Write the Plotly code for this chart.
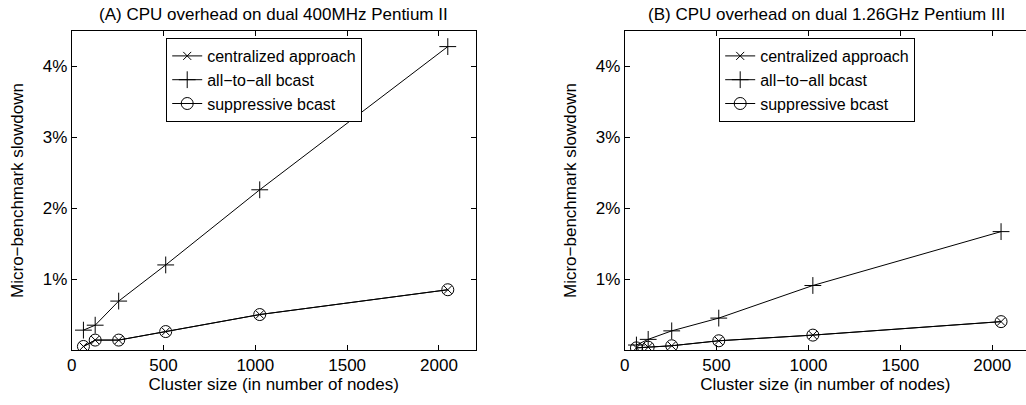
import plotly.graph_objects as go

nodes = [64, 128, 256, 512, 1024, 2048]

# Panel A: dual 400MHz Pentium II (percent slowdown)
a_central = [0.05, 0.14, 0.14, 0.26, 0.50, 0.85]
a_all2all = [0.28, 0.35, 0.69, 1.20, 2.26, 4.28]
a_suppress = [0.05, 0.14, 0.14, 0.26, 0.50, 0.85]

# Panel B: dual 1.26GHz Pentium III (percent slowdown)
b_central = [0.03, 0.04, 0.06, 0.13, 0.21, 0.40]
b_all2all = [0.07, 0.15, 0.27, 0.45, 0.91, 1.67]
b_suppress = [0.03, 0.04, 0.06, 0.13, 0.21, 0.40]

series_names = ["centralized approach", "all\u2212to\u2212all bcast", "suppressive bcast"]
titles = ["(A) CPU overhead on dual 400MHz Pentium II",
          "(B) CPU overhead on dual 1.26GHz Pentium III"]
y_ticks = [1, 2, 3, 4]
y_labels = ["1%", "2%", "3%", "4%"]
x_ticks = [0, 500, 1000, 1500, 2000]

W, H = 1026, 405
FONT = "Liberation Sans, Arial, sans-serif"
FS = 17
markers = ["x-thin-open", "cross-thin-open", "circle-open"]
msizes = [8, 12, 12]

fig = go.Figure()
panels = [(a_central, a_all2all, a_suppress), (b_central, b_all2all, b_suppress)]
for p, data in enumerate(panels):
    xa = "x" if p == 0 else "x2"
    ya = "y" if p == 0 else "y2"
    lg = "legend" if p == 0 else "legend2"
    for s, vals in enumerate(data):
        fig.add_trace(go.Scatter(
            x=nodes, y=vals, mode="lines+markers", name=series_names[s],
            xaxis=xa, yaxis=ya, legend=lg,
            line=dict(color="black", width=1),
            marker=dict(symbol=markers[s], size=msizes[s], color="black",
                        line=dict(color="black", width=1)),
        ))

def px_x(v):
    return v / W

def px_y(v):
    return 1 - v / H

ybot, ytop = px_y(350), px_y(31)
axis_common = dict(showgrid=False, zeroline=False, showline=True, linecolor="black",
                   linewidth=1, ticks="inside", ticklen=5, tickcolor="black",
                   tickfont=dict(family=FONT, size=FS, color="black"))
xtitle = dict(text="Cluster size (in number of nodes)", standoff=2,
              font=dict(family=FONT, size=FS, color="black"))
ytitle = dict(text="Micro\u2212benchmark slowdown", standoff=14,
              font=dict(family=FONT, size=FS, color="black"))
leg_common = dict(xanchor="left", yanchor="top", bgcolor="white", bordercolor="black",
                  borderwidth=1, font=dict(family=FONT, size=16, color="black"),
                  itemwidth=30, tracegroupgap=0)

# right panel is cut by the page edge: 2200 would sit at x=1029
right_end = 2200 * (W - 622.7) / (1029 - 622.7)

fig.update_layout(
    width=W, height=H, margin=dict(l=0, r=0, t=0, b=0),
    paper_bgcolor="white", plot_bgcolor="white",
    font=dict(family=FONT, size=FS, color="black"),
    xaxis=dict(domain=[px_x(67), px_x(473)], range=[0, 2200], tickvals=x_ticks,
               mirror="allticks", anchor="y", title=xtitle, **axis_common),
    yaxis=dict(domain=[ybot, ytop], range=[0, 4.5], tickvals=y_ticks, ticktext=y_labels,
               mirror="allticks", anchor="x", title=ytitle, **axis_common),
    xaxis2=dict(domain=[px_x(622.7), 1.0], range=[0, right_end], tickvals=x_ticks,
                mirror="allticks", anchor="y2", title=xtitle, **axis_common),
    yaxis2=dict(domain=[ybot, ytop], range=[0, 4.5], tickvals=y_ticks, ticktext=y_labels,
                mirror=False, anchor="x2", title=ytitle, **axis_common),
    legend=dict(x=px_x(162), y=px_y(38), **leg_common),
    legend2=dict(x=px_x(717.7), y=px_y(38), **leg_common),
    showlegend=True,
)

centers = [(67 + 473) / 2, (622.7 + 1029) / 2]
for t, c in zip(titles, centers):
    fig.add_annotation(text=t, x=px_x(c), y=px_y(15), xref="paper", yref="paper",
                       showarrow=False, xanchor="center", yanchor="middle",
                       font=dict(family=FONT, size=FS, color="black"))

fig.write_html("out.html",
               config={"displayModeBar": False},
               post_script="document.body.style.margin='0px';")
